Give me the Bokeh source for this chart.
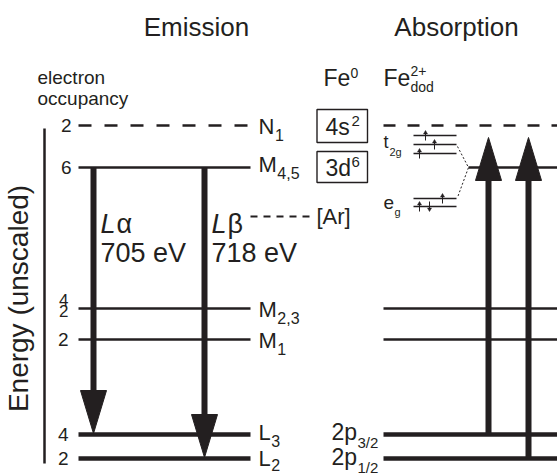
import math
from bokeh.plotting import figure
from bokeh.models import Range1d, Label
from bokeh.embed import file_html
from bokeh.resources import INLINE

# ---------------- level scheme of iron (unscaled energy units, up = less bound) ----------------
level_names = ["N1", "M4,5", "M2,3", "M1", "L3", "L2"]
level_letter = ["N", "M", "M", "M", "L", "L"]
level_index = ["1", "4,5", "2,3", "1", "3", "2"]
level_energy = [349, 307, 166, 135, 40, 16]
occupancy = [["2"], ["6"], ["4", "2"], ["2"], ["4"], ["2"]]
level_empty = [True, False, False, False, False, False]
level_core = [False, False, False, False, True, True]

# absorption side uses the same ladder, with the 2p core labels
absorption_names = ["4s", "3d", "M2,3", "M1", "2p3/2", "2p1/2"]
core_main = ["2p", "2p"]
core_sub = ["3/2", "1/2"]
core_levels = ["2p3/2", "2p1/2"]

# emission lines
emission_greek = ["\u03b1", "\u03b2"]
emission_eV = [705, 718]
emission_upper = ["M4,5", "M4,5"]
emission_lower = ["L3", "L2"]

# absorption transitions
absorption_lower = ["2p3/2", "2p1/2"]
absorption_upper = ["3d", "3d"]

# Fe0 valence configuration
config_orbital = ["4s", "3d"]
config_electrons = ["2", "6"]

# Fe2+ (dodecahedral) d-orbital splitting and its six electrons
orbital_group = ["t2g", "t2g", "t2g", "eg", "eg"]
spin_orbital = [0, 1, 2, 3, 4, 4]
spin_up = [True, True, True, True, True, False]

# ---------------- layout ----------------
W, H = 557, 474
FONT = "Liberation Sans"
INK = "#231f20"


def Y(px):
    """Screen row (from the top) to diagram units."""
    return H - px


p = figure(width=W, height=H, x_range=Range1d(0, W), y_range=Range1d(0, H),
           output_backend="svg", toolbar_location=None, min_border=0)
p.axis.visible = False
p.grid.visible = False
p.outline_line_color = None
p.background_fill_color = "white"


def txt(x, y, s, size, align="left", style="normal", angle=0.0):
    p.add_layout(Label(x=x, y=y, text=s, text_font=FONT, text_font_size=f"{size}px",
                       text_align=align, text_baseline="middle", text_font_style=style,
                       text_color=INK, angle=angle))


E = dict(zip(level_names, level_energy))
EA = dict(zip(absorption_names, level_energy))

EM_X0, EM_X1 = 78, 250
AB_X0, AB_X1 = 383, W
D_JOIN = 468  # where the split d-levels merge into the 3d line

# ---- emission ladder ----
for name, e, empty, core in zip(level_names, level_energy, level_empty, level_core):
    lw = 4.5 if core else 2.6
    dash = "13 13" if empty else "solid"
    p.segment(x0=[EM_X0], y0=[e], x1=[EM_X1], y1=[e], line_color=INK, line_width=lw,
              line_dash=dash)

# ---- absorption ladder ----
for name, e, empty, core in zip(absorption_names, level_energy, level_empty, level_core):
    lw = 4.5 if core else 2.6
    dash = "12 12" if empty else "solid"
    x0 = D_JOIN if name == "3d" else AB_X0
    p.segment(x0=[x0], y0=[e], x1=[AB_X1], y1=[e], line_color=INK, line_width=lw,
              line_dash=dash)

# ---- level labels and occupancies ----
letter_w = {"N": 0.722, "M": 0.833, "L": 0.556}
label_shift = [-1, 3, -1, -0.5, 2, 0]
index_drop = [8.5, 8.5, 8.5, 8.5, 8.5, 6.5]
for letter, idx, e, occ, dy, dd in zip(level_letter, level_index, level_energy, occupancy,
                                       label_shift, index_drop):
    c = e + dy
    txt(258, c, letter, 22)
    txt(258 + letter_w[letter] * 22 + 0.5, c - dd, idx, 16)
    if len(occ) == 1:
        txt(71 if e > 200 else 68, e, occ[0], 19, align="right")
    else:
        txt(68, e + 9, occ[0], 17, align="right")
        txt(68, e - 2, occ[1], 17, align="right")

core_shift = [3, 2]
for main, sub, name, dy in zip(core_main, core_sub, core_levels, core_shift):
    c = EA[name] + dy
    txt(331, c, main, 23)
    txt(357, c - 10.5, sub, 15)

# ---- energy axis ----
p.segment(x0=[44], y0=[Y(128)], x1=[44], y1=[Y(463)], line_color=INK, line_width=2.5)
txt(18, Y(298), "Energy (unscaled)", 28, align="center", angle=math.pi / 2)
txt(37, Y(77), "electron", 19)
txt(37, Y(98), "occupancy", 19)

# ---- titles ----
txt(196, Y(26), "Emission", 26, align="center")
txt(456, Y(26), "Absorption", 26, align="center")

# ---- arrows ----
HEAD_L, HEAD_W, SHAFT = 43, 26, 6
OVERSHOOT = 30
emission_x = [93, 204]
absorption_x = [488, 528]

heads_x, heads_y = [], []
sx0, sy0, sx1, sy1 = [], [], [], []
for x, up, lo in zip(emission_x, emission_upper, emission_lower):
    tip = E[lo] + 1
    sx0.append(x); sy0.append(E[up]); sx1.append(x); sy1.append(tip + HEAD_L - 2)
    heads_x.append([x - HEAD_W / 2, x + HEAD_W / 2, x])
    heads_y.append([tip + HEAD_L, tip + HEAD_L, tip])
for x, lo, up in zip(absorption_x, absorption_lower, absorption_upper):
    tip = EA[up] + OVERSHOOT
    sx0.append(x); sy0.append(EA[lo]); sx1.append(x); sy1.append(tip - HEAD_L + 2)
    heads_x.append([x - HEAD_W / 2, x + HEAD_W / 2, x])
    heads_y.append([tip - HEAD_L, tip - HEAD_L, tip])
p.segment(x0=sx0, y0=sy0, x1=sx1, y1=sy1, line_color=INK, line_width=SHAFT)
p.patches(xs=heads_x, ys=heads_y, fill_color=INK, line_color=INK, line_width=1)

# emission line labels
for x, g, ev in zip(emission_x, emission_greek, emission_eV):
    txt(x + 7, Y(223), "L", 27, style="italic")
    txt(x + 23, Y(223), g, 27)
    txt(x + 7, Y(252), f"{ev} eV", 27)

# Lβ leaves from the [Ar] core
p.segment(x0=[250], y0=[Y(216)], x1=[313], y1=[Y(216)], line_color=INK, line_width=1.8,
          line_dash="7 6")
txt(316, Y(216), "[Ar]", 22)

# ---- Fe0 configuration boxes ----
box_top = [109, 151]
box_bot = [142, 182]
for orb, n, t, b in zip(config_orbital, config_electrons, box_top, box_bot):
    p.quad(left=[316.5], right=[367], top=[Y(t)], bottom=[Y(b)], fill_color=None,
           line_color=INK, line_width=1.4)
    c = Y((t + b) / 2 + 0.5)
    txt(325, c, orb, 23)
    txt(351, c + 6, n, 15)

# ---- species headers ----
txt(323, Y(77), "Fe", 23)
txt(350, Y(72), "0", 14)
txt(383, Y(77), "Fe", 23)
txt(410, Y(70), "2+", 14)
txt(410, Y(86), "dod", 14)

# ---- Fe2+ crystal-field splitting ----
orbital_px = [135, 144, 153, 198, 206]
ORB_X0, ORB_X1 = 413, 456
p.segment(x0=[ORB_X0] * 5, y0=[Y(v) for v in orbital_px], x1=[ORB_X1] * 5,
          y1=[Y(v) for v in orbital_px], line_color=INK, line_width=1.3)
spin_x = [425, 434, 419, 442, 419, 429]
ax0, ay0, ax1, ay1, hx, hy = [], [], [], [], [], []
for o, up, x in zip(spin_orbital, spin_up, spin_x):
    yc = Y(orbital_px[o])
    lo, hi = yc - 5, yc + 5
    ax0.append(x); ax1.append(x)
    if up:
        ay0.append(lo); ay1.append(hi - 2)
        hx.append([x - 2, x + 2, x]); hy.append([hi - 3.5, hi - 3.5, hi])
    else:
        ay0.append(hi); ay1.append(lo + 2)
        hx.append([x - 2, x + 2, x]); hy.append([lo + 3.5, lo + 3.5, lo])
p.segment(x0=ax0, y0=ay0, x1=ax1, y1=ay1, line_color=INK, line_width=1)
p.patches(xs=hx, ys=hy, fill_color=INK, line_color=INK, line_width=0.5)

# dotted correlation lines to the 3d level
p.line(x=[ORB_X1 + 1, D_JOIN, ORB_X1 + 1], y=[Y(146), EA["3d"], Y(197)],
       line_color=INK, line_width=1, line_dash="2 2")

txt(383, Y(141), "t", 18)
txt(389, Y(151), "2g", 11)
txt(383, Y(202), "e", 19)
txt(394, Y(211), "g", 11)

open("out.html", "w").write(file_html(p, INLINE))
